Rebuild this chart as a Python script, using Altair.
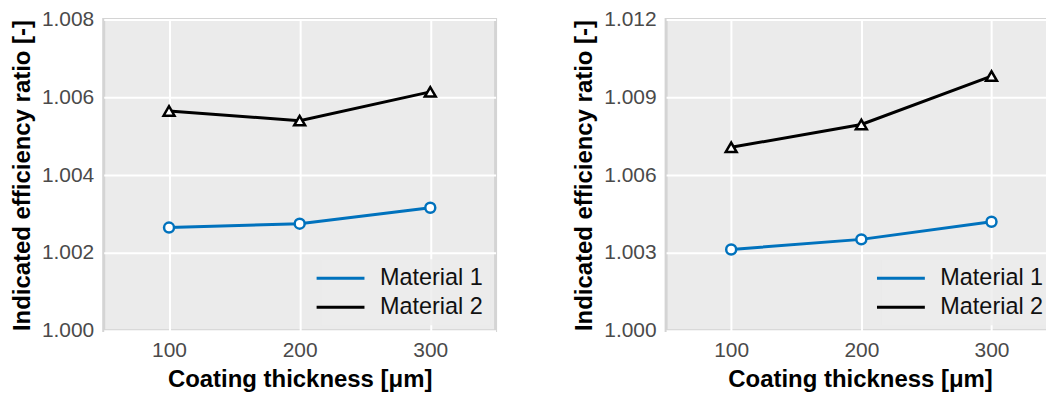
import altair as alt
import pandas as pd

# ---- data ----
thickness = [100, 200, 300]
materials = ["Material 1", "Material 2"]

left_m1 = [1.00265, 1.00275, 1.00316]
left_m2 = [1.00565, 1.00540, 1.00614]
right_m1 = [1.00313, 1.00352, 1.00420]
right_m2 = [1.00707, 1.00795, 1.00982]

left_yticks = [1.000, 1.002, 1.004, 1.006, 1.008]
right_yticks = [1.000, 1.003, 1.006, 1.009, 1.012]
x_ticks = [100, 200, 300]

BLUE = "#0072BD"
FONT = "Liberation Sans"


def make_df(m1, m2):
    rows = []
    for name, vals in zip(materials, [m1, m2]):
        for t, v in zip(thickness, vals):
            rows.append({"thickness": t, "ratio": v, "material": name})
    return pd.DataFrame(rows)


def panel(m1, m2, yticks, width, xmax, legend_x):
    df = make_df(m1, m2)
    x = alt.X(
        "thickness:Q",
        scale=alt.Scale(domain=[50, xmax], nice=False, zero=False),
        axis=alt.Axis(values=x_ticks, title="Coating thickness [μm]", format="d"),
    )
    y = alt.Y(
        "ratio:Q",
        scale=alt.Scale(domain=[yticks[0], yticks[-1]], nice=False, zero=False),
        axis=alt.Axis(values=yticks, title="Indicated efficiency ratio [-]", format=".3f"),
    )
    base = alt.Chart(df).encode(x=x, y=y)
    lines = base.mark_line(strokeWidth=3).encode(
        color=alt.Color(
            "material:N",
            scale=alt.Scale(domain=materials, range=[BLUE, "black"]),
            legend=alt.Legend(
                title=None,
                orient="none",
                legendX=legend_x,
                legendY=240,
                symbolType="M-2,0H2",
                symbolSize=576,
                symbolStrokeWidth=3,
                labelFontSize=23.5,
                labelFont=FONT,
                labelColor="#111111",
                labelOffset=26,
                rowPadding=4,
                padding=6,
                fillColor="rgba(236,236,236,0.8)",
                strokeColor="transparent",
            ),
        )
    )
    pts1 = base.transform_filter(alt.datum.material == materials[0]).mark_point(
        shape="circle", filled=True, fill="white", stroke=BLUE, size=100,
        strokeWidth=2.5, opacity=1,
    )
    pts2 = base.transform_filter(alt.datum.material == materials[1]).mark_point(
        shape="triangle-up", filled=True, fill="white", stroke="black", size=120,
        strokeWidth=2.5, opacity=1,
    )
    return alt.layer(lines, pts1, pts2).properties(width=width, height=312)


left = panel(left_m1, left_m2, left_yticks, 393, 350, 218)
right = panel(right_m1, right_m2, right_yticks, 389, 348, 216)

chart = (
    alt.hconcat(left, right, spacing=73)
    .resolve_scale(y="independent", color="independent")
    .properties(padding={"top": -2, "left": 0, "right": -10, "bottom": 0})
    .configure_view(fill="#EBEBEB", stroke="#D4D4D4", strokeWidth=3)
    .configure_axis(
        domain=False,
        ticks=False,
        grid=True,
        gridColor="white",
        gridWidth=2,
        labelFont=FONT,
        labelFontSize=21,
        labelColor="#4a4a4a",
        titleFont=FONT,
        titleFontSize=24,
        titleFontWeight="bold",
        titleColor="black",
    )
    .configure_axisX(labelPadding=9, titlePadding=7)
    .configure_axisY(labelPadding=10, titlePadding=7)
)

chart.save("out.html", embed_options={"renderer": "svg", "actions": False})
